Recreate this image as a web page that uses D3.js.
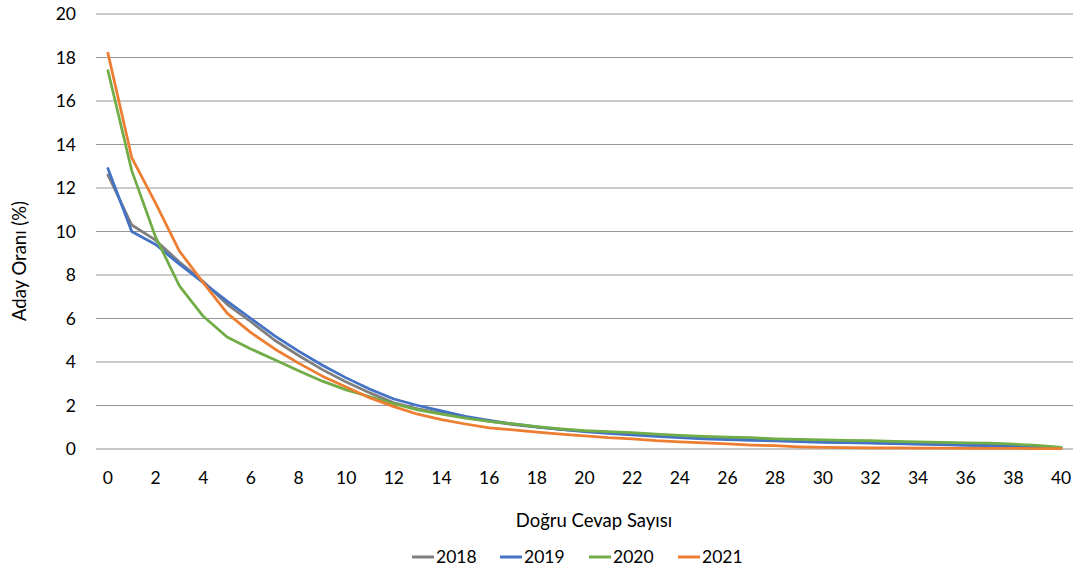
<!DOCTYPE html>
<html>
<head>
<meta charset="utf-8">
<script src="https://cdn.jsdelivr.net/npm/d3@7/dist/d3.min.js"></script>
<style>
  html, body { margin: 0; padding: 0; background: #fff; }
  svg { display: block; }
  text { font-family: Lato, "Open Sans", sans-serif; fill: #000; }
</style>
</head>
<body>
<svg id="chart" width="1081" height="573"></svg>
<script>
const categories = d3.range(0, 41);
const xTickLabels = d3.range(0, 41, 2);
const yTickLabels = [0, 2, 4, 6, 8, 10, 12, 14, 16, 18, 20];
const seriesNames = ["2018", "2019", "2020", "2021"];
const seriesColors = ["#7f7f7f", "#4472c4", "#70ad47", "#ed7d31"];

const values2018 = [12.6, 10.3, 9.6, 8.6, 7.7, 6.65, 5.85, 5.0, 4.3, 3.65, 3.08, 2.58, 2.12, 1.85, 1.65, 1.45, 1.28, 1.12, 1.0, 0.9, 0.82, 0.75, 0.68, 0.62, 0.57, 0.52, 0.48, 0.44, 0.4, 0.37, 0.34, 0.31, 0.29, 0.26, 0.24, 0.21, 0.19, 0.17, 0.14, 0.11, 0.06];
const values2019 = [12.9, 10.0, 9.4, 8.5, 7.65, 6.8, 6.0, 5.2, 4.5, 3.85, 3.27, 2.75, 2.3, 2.0, 1.75, 1.5, 1.32, 1.15, 1.02, 0.9, 0.8, 0.72, 0.65, 0.58, 0.52, 0.47, 0.43, 0.4, 0.37, 0.34, 0.31, 0.29, 0.27, 0.25, 0.22, 0.2, 0.17, 0.15, 0.12, 0.1, 0.05];
const values2020 = [17.4, 12.8, 9.75, 7.5, 6.1, 5.15, 4.6, 4.1, 3.6, 3.12, 2.72, 2.4, 2.08, 1.8, 1.6, 1.42, 1.27, 1.15, 1.03, 0.93, 0.85, 0.8, 0.75, 0.68, 0.63, 0.58, 0.55, 0.52, 0.47, 0.44, 0.42, 0.4, 0.38, 0.35, 0.33, 0.3, 0.28, 0.27, 0.22, 0.17, 0.08];
const values2021 = [18.2, 13.4, 11.3, 9.1, 7.65, 6.25, 5.35, 4.6, 3.95, 3.35, 2.85, 2.35, 1.95, 1.6, 1.35, 1.15, 0.97, 0.88, 0.78, 0.68, 0.6, 0.52, 0.47, 0.38, 0.33, 0.28, 0.23, 0.18, 0.15, 0.1, 0.07, 0.06, 0.05, 0.05, 0.04, 0.04, 0.03, 0.03, 0.03, 0.02, 0.02];
const seriesValues = [values2018, values2019, values2020, values2021];

const svg = d3.select("#chart");
const plot = { left: 96, right: 1073, top: 14, bottom: 449 };

const xBand = d3.scaleBand().domain(categories).range([plot.left, plot.right]).padding(0);
const xPos = d => xBand(d) + xBand.bandwidth() / 2;
const y = d3.scaleLinear().domain([0, 20]).range([plot.bottom, plot.top]);

// gridlines
svg.append("g").selectAll("line")
  .data(yTickLabels.filter(v => v > 0))
  .join("line")
  .attr("x1", plot.left).attr("x2", plot.right)
  .attr("y1", d => y(d)).attr("y2", d => y(d))
  .attr("stroke", "#969696").attr("stroke-width", 1);

// x axis line
svg.append("line")
  .attr("x1", plot.left).attr("x2", plot.right)
  .attr("y1", y(0)).attr("y2", y(0))
  .attr("stroke", "#b4b4b4").attr("stroke-width", 1.3);

// y tick labels
svg.append("g").selectAll("text")
  .data(yTickLabels)
  .join("text")
  .attr("x", 76)
  .attr("y", d => y(d))
  .attr("dy", "0.35em")
  .attr("text-anchor", "end")
  .attr("font-size", 17.5)
  .text(d => d);

// x tick labels
svg.append("g").selectAll("text")
  .data(xTickLabels)
  .join("text")
  .attr("x", d => xPos(d))
  .attr("y", 478)
  .attr("dy", "0.35em")
  .attr("text-anchor", "middle")
  .attr("font-size", 17.5)
  .text(d => d);

// axis titles
svg.append("text")
  .attr("x", 594).attr("y", 521).attr("dy", "0.35em")
  .attr("text-anchor", "middle").attr("font-size", 18.5)
  .text("Doğru Cevap Sayısı");

svg.append("text")
  .attr("transform", "translate(20,261) rotate(-90)")
  .attr("dy", "0.35em")
  .attr("text-anchor", "middle").attr("font-size", 18.5)
  .text("Aday Oranı (%)");

// lines
const line = d3.line().x((d, i) => xPos(categories[i])).y(d => y(d));
svg.append("g").selectAll("path")
  .data(seriesValues)
  .join("path")
  .attr("d", d => line(d))
  .attr("fill", "none")
  .attr("stroke", (d, i) => seriesColors[i])
  .attr("stroke-width", 2.75)
  .attr("stroke-linejoin", "round")
  .attr("stroke-linecap", "round");

// legend
const legendX = [412, 500, 589, 678];
const lg = svg.append("g").selectAll("g")
  .data(seriesNames)
  .join("g")
  .attr("transform", (d, i) => `translate(${legendX[i]},557)`);
lg.append("line")
  .attr("x1", 0).attr("x2", 22).attr("y1", 0).attr("y2", 0)
  .attr("stroke", (d, i) => seriesColors[i]).attr("stroke-width", 3);
lg.append("text")
  .attr("x", 24).attr("y", 0).attr("dy", "0.35em")
  .attr("font-size", 17.5)
  .text(d => d);
</script>
</body>
</html>
